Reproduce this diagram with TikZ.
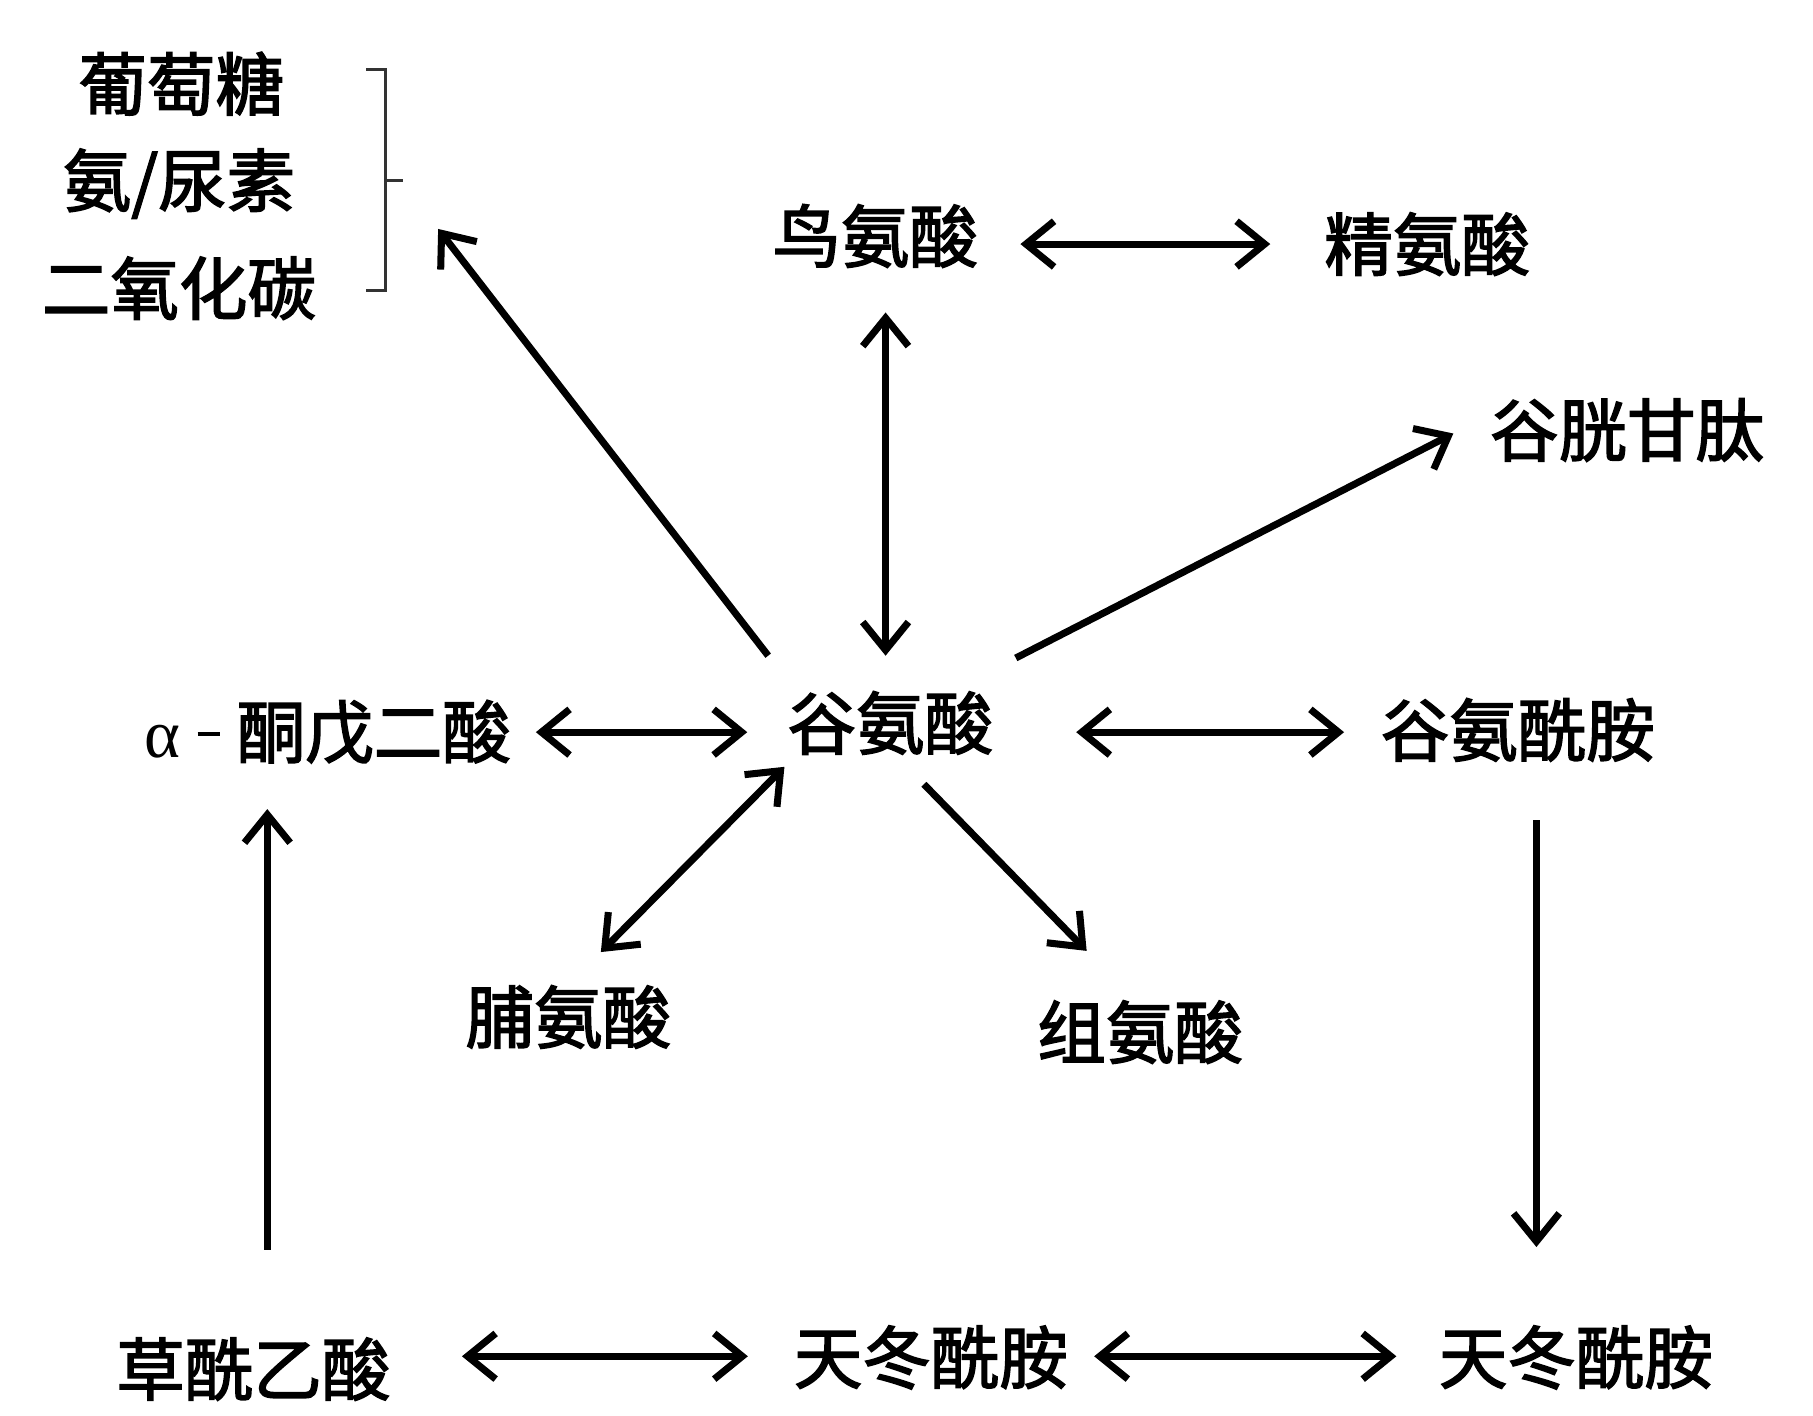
\documentclass[tikz,border=0pt]{standalone}
\usepackage{fontspec}
\newfontface\cjk{Noto Sans CJK SC}[FakeBold=2.2]
\newfontfamily\lat{Liberation Serif}
\usetikzlibrary{arrows.meta}
\begin{document}
\begin{tikzpicture}[x=0.01162cm,y=-0.01162cm,
  lbl/.style={font=\cjk\fontsize{19.5}{23}\selectfont, inner sep=0pt},
  tip/.tip={Straight Barb[length=8pt,width=13pt]},
  conn/.style={line width=2pt, -tip},
  both/.style={line width=2pt, tip-tip},
  brace/.style={line width=0.9pt, draw=black!80}
]
\useasboundingbox[fill=white] (0,0) rectangle (1560,1218);

\node[lbl] (glc) at (156,72) {葡萄糖};
\node[lbl] (nh3) at (154,158) {氨/尿素};
\node[lbl] (co2) at (154,248) {二氧化碳};

\node[lbl] (orn) at (753,203) {鸟氨酸};
\node[lbl] (arg) at (1228,210) {精氨酸};
\node[lbl] (gsh) at (1400,370) {谷胱甘肽};
\node[lbl] (glu) at (766,622) {谷氨酸};
\node[lbl] (akg) at (282,630) {{\lat α}\hspace{0.25em}\raisebox{0.32em}{\rule{0.32em}{0.06em}}\hspace{0.25em}酮戊二酸};
\node[lbl] (gln) at (1306,628) {谷氨酰胺};
\node[lbl] (pro) at (489,875) {脯氨酸};
\node[lbl] (his) at (981,888) {组氨酸};
\node[lbl] (oaa) at (218,1178) {草酰乙酸};
\node[lbl] (asn1) at (801,1168) {天冬酰胺};
\node[lbl] (asn2) at (1356,1168) {天冬酰胺};

% bracket
\coordinate (brk) at (332,155);
\draw[brace] (315,60) -- (332,60) -- (332,250) -- (315,250);
\draw[brace] (brk) -- ++(15,0);

% connectors
\draw[conn] ([shift={(-16,-30)}]glu.north west) -- ([shift={(45,42)}]brk);
\draw[both] ([shift={(9,38)}]orn.south) -- ([shift={(-4,-30)}]glu.north);
\draw[both] ([shift={(36,7)}]orn.east) -- ([shift={(-46,0)}]arg.west);
\draw[conn] ([shift={(19,-28)}]glu.north east) -- ([shift={(-31,3)}]gsh.west);
\draw[both] ([shift={(21,0)}]akg.east) -- ([shift={(-34,8)}]glu.west);
\draw[both] ([shift={(71,8)}]glu.east) -- ([shift={(-31,2)}]gln.west);
\draw[both] ([shift={(28,-28)}]pro.north) -- ([shift={(-2,10)}]glu.south west);
\draw[conn] ([shift={(29,25)}]glu.south) -- ([shift={(-46,-42)}]his.north);
\draw[conn] ([shift={(16,50)}]gln.south) -- ([shift={(-34,-67)}]asn2.north);
\draw[conn] ([shift={(12,-75)}]oaa.north) -- ([shift={(-52,38)}]akg.south);
\draw[both] ([shift={(61,-11)}]oaa.east) -- ([shift={(-39,-1)}]asn1.west);
\draw[both] ([shift={(22,-1)}]asn1.east) -- ([shift={(-36,-1)}]asn2.west);
\end{tikzpicture}
\end{document}
